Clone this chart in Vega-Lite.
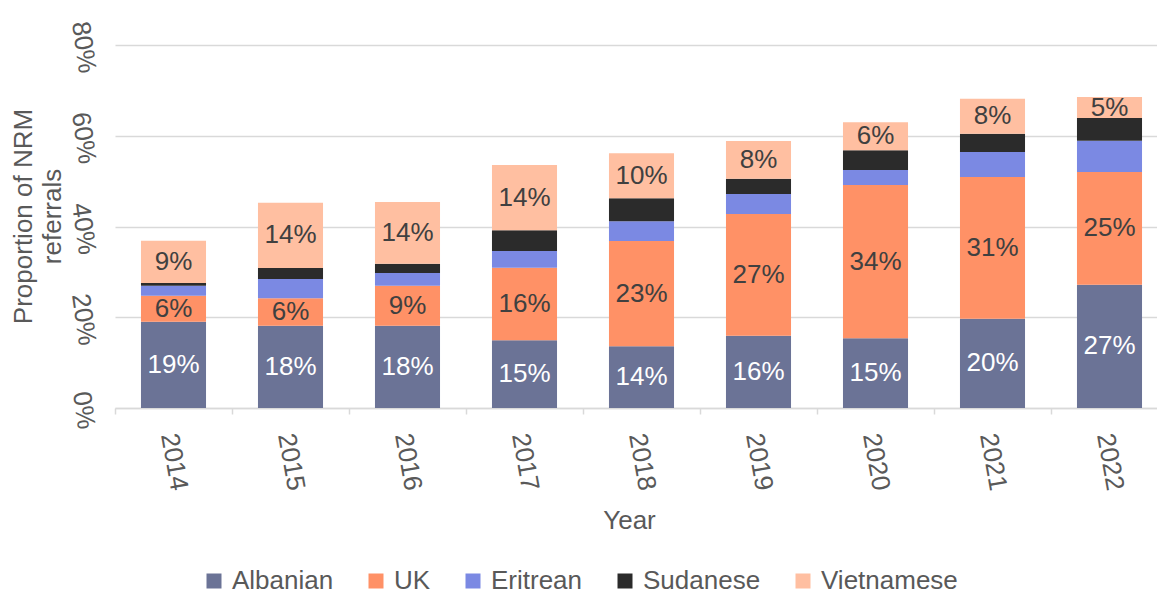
{
  "$schema": "https://vega.github.io/schema/vega-lite/v6.json",
  "width": 1053,
  "height": 363,
  "autosize": {"type": "none"},
  "padding": {"left": 115, "top": 45, "right": 0, "bottom": 188},
  "background": "white",
  "config": {"view": {"stroke": null}, "font": "Liberation Sans"},
  "datasets": {
    "natorder": [
      {"nat": "Albanian", "k": 1},
      {"nat": "UK", "k": 2},
      {"nat": "Eritrean", "k": 3},
      {"nat": "Sudanese", "k": 4},
      {"nat": "Vietnamese", "k": 5}
    ],
    "referrals": [
      {"year": "2014", "nat": "Albanian", "share": 0.1902},
      {"year": "2014", "nat": "UK", "share": 0.0573},
      {"year": "2014", "nat": "Eritrean", "share": 0.0220},
      {"year": "2014", "nat": "Sudanese", "share": 0.0060},
      {"year": "2014", "nat": "Vietnamese", "share": 0.0932},
      {"year": "2015", "nat": "Albanian", "share": 0.1814},
      {"year": "2015", "nat": "UK", "share": 0.0604},
      {"year": "2015", "nat": "Eritrean", "share": 0.0425},
      {"year": "2015", "nat": "Sudanese", "share": 0.0242},
      {"year": "2015", "nat": "Vietnamese", "share": 0.1440},
      {"year": "2016", "nat": "Albanian", "share": 0.1814},
      {"year": "2016", "nat": "UK", "share": 0.0881},
      {"year": "2016", "nat": "Eritrean", "share": 0.0280},
      {"year": "2016", "nat": "Sudanese", "share": 0.0205},
      {"year": "2016", "nat": "Vietnamese", "share": 0.1360},
      {"year": "2017", "nat": "Albanian", "share": 0.1492},
      {"year": "2017", "nat": "UK", "share": 0.1600},
      {"year": "2017", "nat": "Eritrean", "share": 0.0367},
      {"year": "2017", "nat": "Sudanese", "share": 0.0456},
      {"year": "2017", "nat": "Vietnamese", "share": 0.1439},
      {"year": "2018", "nat": "Albanian", "share": 0.1360},
      {"year": "2018", "nat": "UK", "share": 0.2320},
      {"year": "2018", "nat": "Eritrean", "share": 0.0433},
      {"year": "2018", "nat": "Sudanese", "share": 0.0507},
      {"year": "2018", "nat": "Vietnamese", "share": 0.0992},
      {"year": "2019", "nat": "Albanian", "share": 0.1594},
      {"year": "2019", "nat": "UK", "share": 0.2681},
      {"year": "2019", "nat": "Eritrean", "share": 0.0441},
      {"year": "2019", "nat": "Sudanese", "share": 0.0338},
      {"year": "2019", "nat": "Vietnamese", "share": 0.0830},
      {"year": "2020", "nat": "Albanian", "share": 0.1535},
      {"year": "2020", "nat": "UK", "share": 0.3379},
      {"year": "2020", "nat": "Eritrean", "share": 0.0331},
      {"year": "2020", "nat": "Sudanese", "share": 0.0433},
      {"year": "2020", "nat": "Vietnamese", "share": 0.0617},
      {"year": "2021", "nat": "Albanian", "share": 0.1969},
      {"year": "2021", "nat": "UK", "share": 0.3122},
      {"year": "2021", "nat": "Eritrean", "share": 0.0551},
      {"year": "2021", "nat": "Sudanese", "share": 0.0404},
      {"year": "2021", "nat": "Vietnamese", "share": 0.0771},
      {"year": "2022", "nat": "Albanian", "share": 0.2718},
      {"year": "2022", "nat": "UK", "share": 0.2483},
      {"year": "2022", "nat": "Eritrean", "share": 0.0690},
      {"year": "2022", "nat": "Sudanese", "share": 0.0500},
      {"year": "2022", "nat": "Vietnamese", "share": 0.0463}
    ]
  },
  "data": {"name": "referrals"},
  "transform": [
    {"lookup": "nat", "from": {"data": {"name": "natorder"}, "key": "nat", "fields": ["k"]}}
  ],
  "encoding": {
    "x": {
      "field": "year", "type": "ordinal",
      "scale": {"paddingInner": 0, "paddingOuter": 0},
      "axis": {
        "tickBand": "extent", "domainColor": "#d9d9d9", "domainWidth": 1.5,
        "tickColor": "#d9d9d9", "tickSize": 6, "tickWidth": 1.5,
        "labelAngle": 80, "labelAlign": "left", "labelBaseline": "middle",
        "labelFontSize": 26, "labelColor": "#595959", "labelPadding": 19, "labelOffset": -5,
        "labelOverlap": false,
        "title": "Year", "titleFontSize": 26, "titleFontWeight": "normal", "titleColor": "#595959",
        "titleX": 514, "titleY": 120, "titleBaseline": "alphabetic", "titleAlign": "center",
        "grid": false
      }
    },
    "y": {
      "field": "share", "type": "quantitative", "stack": "zero",
      "scale": {"domain": [0, 0.8]},
      "axis": {
        "format": ".0%", "values": [0, 0.2, 0.4, 0.6, 0.8],
        "domain": false, "ticks": false,
        "gridColor": "#d9d9d9", "gridWidth": 1.3,
        "labelAngle": 82, "labelAlign": "center", "labelBaseline": "top", "labelPadding": 19,
        "labelFontSize": 26, "labelColor": "#595959", "labelOverlap": false,
        "title": ["Proportion of NRM", "referrals"], "titleFontSize": 26, "titleFontWeight": "normal",
        "titleColor": "#595959", "titleAngle": -90, "titleX": -84, "titleY": 171,
        "titleAlign": "center", "titleBaseline": "alphabetic", "titleLineHeight": 29
      }
    },
    "order": {"field": "k", "type": "quantitative", "sort": "ascending"},
    "color": {
      "field": "nat", "type": "nominal",
      "sort": ["Albanian", "UK", "Eritrean", "Sudanese", "Vietnamese"],
      "scale": {
        "domain": ["Albanian", "UK", "Eritrean", "Sudanese", "Vietnamese"],
        "range": ["#6B7396", "#FF9166", "#7B89E3", "#2B2B2B", "#FFBFA1"]
      },
      "legend": {
        "orient": "none", "legendX": 86, "legendY": 523, "direction": "horizontal",
        "title": null, "symbolType": "square", "symbolSize": 225, "symbolStrokeWidth": 0,
        "symbolOpacity": 1,
        "labelFontSize": 26, "labelColor": "#595959", "labelOffset": 5, "columnPadding": 29
      }
    }
  },
  "layer": [
    {"mark": {"type": "bar", "width": {"band": 0.556}}},
    {
      "mark": {"type": "text", "fontSize": 26, "baseline": "middle"},
      "encoding": {
        "y": {"field": "share", "type": "quantitative", "stack": "zero", "bandPosition": 0.5},
        "text": {"field": "share", "type": "quantitative", "format": ".0%"},
        "fill": {"condition": {"test": "datum.nat === 'Albanian'", "value": "white"}, "value": "#404040"},
        "opacity": {"condition": {"test": "datum.nat === 'Eritrean' || datum.nat === 'Sudanese'", "value": 0}, "value": 1}
      }
    }
  ]
}
